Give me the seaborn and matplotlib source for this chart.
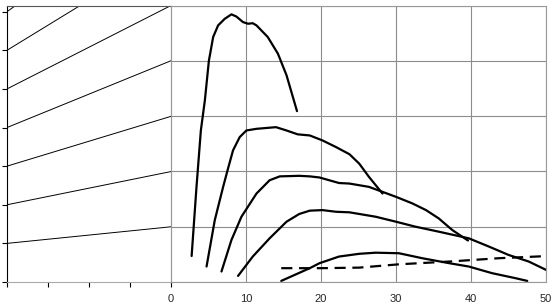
import matplotlib
matplotlib.use("Agg")
import matplotlib.pyplot as plt
import seaborn as sns
import pandas as pd

sns.set_style("white")
plt.rcParams['font.family'] = ['Liberation Sans', 'DejaVu Sans']

# ---- right panel curves ----
c1_x = [2.75, 3.4, 3.98, 4.52, 5.05, 5.62, 6.28, 7.17, 8.06, 8.72, 9.6, 10.27, 10.9, 11.4, 12.9, 14.25, 15.4, 16.8]
c1_y = [0.47, 1.72, 2.74, 3.29, 4.00, 4.43, 4.64, 4.76, 4.84, 4.80, 4.70, 4.67, 4.68, 4.64, 4.43, 4.13, 3.74, 3.09]

c2_x = [4.74, 5.84, 6.95, 7.6, 8.27, 9.16, 10.05, 11.4, 14.0, 15.4, 16.9, 18.5, 20.2, 22.0, 23.8, 25.1, 26.4, 28.2]
c2_y = [0.28, 1.12, 1.72, 2.05, 2.38, 2.62, 2.74, 2.77, 2.80, 2.74, 2.67, 2.65, 2.56, 2.44, 2.31, 2.14, 1.90, 1.60]

c3_x = [6.73, 8.06, 9.39, 11.4, 13.15, 14.5, 17.1, 18.5, 19.8, 22.4, 23.8, 26.4, 28.2, 30.0, 32.2, 34.0, 35.7, 37.5, 39.6]
c3_y = [0.19, 0.76, 1.18, 1.60, 1.84, 1.91, 1.92, 1.91, 1.89, 1.79, 1.78, 1.72, 1.63, 1.54, 1.42, 1.30, 1.15, 0.94, 0.75]

c4_x = [8.94, 10.9, 13.15, 15.4, 17.1, 18.5, 20.2, 22.0, 23.8, 27.3, 30.0, 32.6, 35.7, 39.7, 42.4, 45.0, 47.7, 50.3]
c4_y = [0.11, 0.46, 0.79, 1.09, 1.23, 1.29, 1.30, 1.27, 1.26, 1.18, 1.09, 1.00, 0.91, 0.79, 0.64, 0.49, 0.37, 0.20]

c5_x = [14.7, 18.5, 19.8, 22.4, 25.1, 27.3, 30.4, 33.5, 37.1, 39.7, 42.8, 45.9, 47.5]
c5_y = [0.02, 0.25, 0.34, 0.46, 0.51, 0.53, 0.52, 0.43, 0.34, 0.28, 0.16, 0.07, 0.02]

dash_x = [14.7, 20.0, 25.1, 30.4, 37.1, 43.7, 50.3]
dash_y = [0.25, 0.25, 0.26, 0.32, 0.37, 0.43, 0.47]

right_xticks = [0, 10, 20, 30, 40, 50]
right_xlabels = ["0", "10", "20", "30", "40", "50"]
right_yticks = [0, 1, 2, 3, 4, 5]

# ---- left panel fan lines ----
fan_start = [1, 2, 3, 4, 5, 6, 7]
fan_end = [1.43, 2.86, 4.29, 5.73, 7.16, 8.60, 10.03]
left_yticks = [0, 1, 2, 3, 4, 5, 6, 7]
left_xticks = [0, 1, 2, 3, 4]

W, H = 553, 306
fig = plt.figure(figsize=(W / 100, H / 100), dpi=100)
bottom = (H - 282) / H
height = (282 - 5.5) / H
axL = fig.add_axes([7 / W, bottom, (171 - 7) / W, height])
axR = fig.add_axes([171 / W, bottom, (546 - 171) / W, height])

# right panel
curves = [(c1_x, c1_y), (c2_x, c2_y), (c3_x, c3_y), (c4_x, c4_y), (c5_x, c5_y)]
for xs, ys in curves:
    df = pd.DataFrame({"x": xs, "y": ys})
    sns.lineplot(data=df, x="x", y="y", ax=axR, color="black", lw=1.6,
                 sort=False, estimator=None)
dfd = pd.DataFrame({"x": dash_x, "y": dash_y})
sns.lineplot(data=dfd, x="x", y="y", ax=axR, color="black", lw=1.6,
             sort=False, estimator=None, linestyle=(0, (5, 3)))
axR.set_xlim(0, 50)
axR.set_ylim(0, 5)
axR.set_xticks(right_xticks)
axR.set_xticklabels(right_xlabels)
axR.set_yticks(right_yticks)
axR.set_yticklabels([])
axR.grid(True, color="#8c8c8c", lw=0.8)
axR.tick_params(axis="both", length=0, labelsize=8, pad=9)
axR.set_xlabel("")
axR.set_ylabel("")
for s in axR.spines.values():
    s.set_color("#999999")
    s.set_linewidth(0.8)

# left panel
for a, b in zip(fan_start, fan_end):
    dfl = pd.DataFrame({"x": [0, 4], "y": [a, b]})
    sns.lineplot(data=dfl, x="x", y="y", ax=axL, color="black", lw=0.7,
                 sort=False, estimator=None)
axL.set_xlim(0, 4)
axL.set_ylim(0, 7.16)
axL.set_yticks(left_yticks)
axL.set_xticks(left_xticks)
axL.set_xticklabels([])
axL.set_yticklabels([])
axL.tick_params(axis="both", direction="out", length=3.5, width=0.8,
                color="black", left=True, bottom=True)
axL.set_xlabel("")
axL.set_ylabel("")
axL.spines["left"].set_color("black")
axL.spines["top"].set_color("#555555")
axL.spines["bottom"].set_color("#aaaaaa")
axL.spines["right"].set_color("#999999")
for s in axL.spines.values():
    s.set_linewidth(0.8)

fig.savefig("out.png", dpi=100)
